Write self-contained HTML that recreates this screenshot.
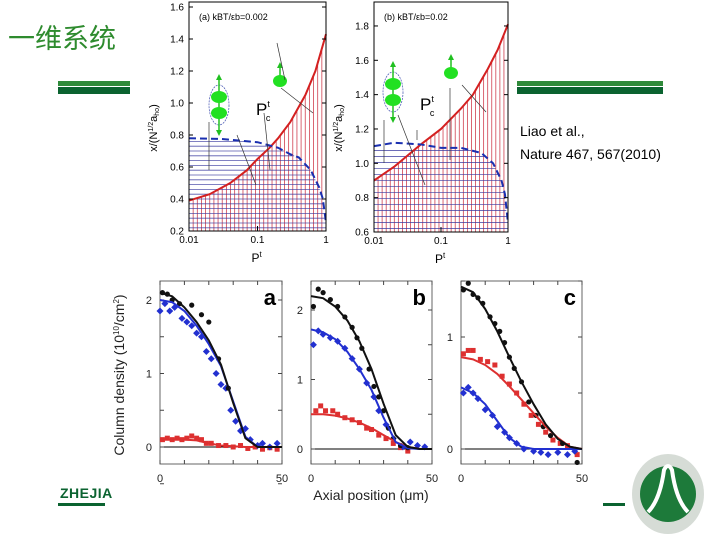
<!DOCTYPE html>
<html><head><meta charset="utf-8"><style>
body{margin:0;background:#fff;}
#root{position:relative;width:720px;height:540px;overflow:hidden;background:#fff;font-family:"Liberation Sans",sans-serif;}
svg text{font-family:"Liberation Sans","Noto Sans CJK SC",sans-serif;}
</style></head><body>
<div id="root">
<svg id="svg" width="720" height="540" viewBox="0 0 720 540">
<text x="8" y="48" font-size="27" fill="#2e8b2e" font-family="Noto Serif CJK SC, serif">一维系统</text>
<rect x="58" y="81" width="72" height="5" fill="#2f8a3a"/>
<rect x="58" y="87" width="72" height="7" fill="#0b6330"/>
<rect x="517" y="81" width="146" height="5" fill="#2f8a3a"/>
<rect x="517" y="87" width="146" height="7" fill="#0b6330"/>
<text x="520" y="136" font-size="14" fill="#000">Liao et al.,</text>
<text x="520" y="159" font-size="14" fill="#000">Nature 467, 567(2010)</text>
<text x="60" y="498" font-size="14" font-weight="bold" fill="#0b6330" letter-spacing="0.5">ZHEJIA</text>
<rect x="58" y="503" width="47" height="3" fill="#0b6330"/>
<rect x="603" y="503" width="22" height="3" fill="#0b6330"/>
<g>
<ellipse cx="668" cy="494" rx="36" ry="40" fill="#d6dcd6"/>
<circle cx="668" cy="494" r="28" fill="#1d7a3a"/>
<path d="M648 512 Q660 500 664 470 Q668 462 672 470 Q676 500 688 512" fill="none" stroke="#fff" stroke-width="4"/>
</g>
<g id="top"></g>
<g id="bot"></g>
</svg>
</div>
<script>
// ---- top chart data ----
const topLeftP = [0.01,0.02,0.04,0.07,0.1,0.15,0.2,0.3,0.5,0.7,1];
const topLeftRed = [0.39,0.43,0.50,0.58,0.65,0.72,0.78,0.88,1.05,1.2,1.43];
const topLeftBlueP = [0.01,0.03,0.1,0.2,0.3,0.4,0.6,0.8,0.9,1];
const topLeftBlue = [0.78,0.775,0.755,0.72,0.68,0.66,0.58,0.47,0.40,0.25];
const topRightP = [0.01,0.02,0.05,0.1,0.2,0.3,0.5,0.7,1];
const topRightRed = [0.9,0.98,1.11,1.2,1.32,1.4,1.55,1.66,1.81];
const topRightBlueP = [0.01,0.02,0.05,0.1,0.2,0.4,0.6,0.8,0.9,1];
const topRightBlue = [1.10,1.12,1.11,1.09,1.09,1.06,1.0,0.9,0.82,0.65];
const topLeftTicks = [0.2,0.4,0.6,0.8,1.0,1.2,1.4,1.6];
const topRightTicks = [0.6,0.8,1.0,1.2,1.4,1.6,1.8];
const topXTicks = [0.01,0.1,1];
// ---- bottom chart data ----
const botX = [0,5,10,15,20,25,30,35,40,45,50];
const aBlack = [2.1,2.05,1.9,1.7,1.45,1.12,0.6,0.12,0,0,0];
const aBlue = [2.0,1.97,1.85,1.65,1.4,1.1,0.62,0.14,0,0,0];
const aRed = [0.1,0.1,0.1,0.09,0.05,0.02,0.01,0,0,0,0];
const bBlack = [2.2,2.17,2.05,1.85,1.55,1.15,0.65,0.2,0.03,0,0];
const bBlue = [1.72,1.68,1.58,1.4,1.15,0.85,0.45,0.1,0.01,0,0];
const bRed = [0.5,0.5,0.48,0.44,0.38,0.3,0.2,0.1,0.03,0,0];
const cBlack = [1.45,1.4,1.25,1.05,0.82,0.6,0.4,0.22,0.09,0.02,0];
const cRed = [0.82,0.8,0.75,0.67,0.56,0.44,0.32,0.2,0.1,0.02,0];
const cBlue = [0.55,0.5,0.4,0.25,0.1,0.02,0,0,0,0,0];
const aBlackPts = [[1,2.1],[3,2.08],[5,2.0],[8,1.95],[13,1.93],[17,1.8],[20,1.7],[24,1.2],[28,0.8]];
const aBluePts = [[0,1.85],[2,1.95],[4,1.85],[6,1.9],[9,1.75],[11,1.7],[13,1.65],[15,1.55],[17,1.5],[19,1.3],[21,1.2],[23,1.0],[25,0.85],[27,0.8],[29,0.5],[31,0.35],[33,0.22],[35,0.25],[37,0.1],[40,0.02],[42,0.05],[45,0.0],[48,0.05]];
const aRedPts = [[1,0.1],[3,0.12],[5,0.1],[7,0.12],[9,0.1],[11,0.12],[13,0.15],[15,0.12],[17,0.1],[19,0.05],[21,0.05],[24,0.02],[27,0.02],[30,0.0],[33,0.02],[36,-0.02],[39,0.0],[42,-0.03],[45,-0.01],[48,-0.03]];
const bBlackPts = [[1,2.05],[3,2.3],[5,2.25],[8,2.15],[11,2.05],[14,1.9],[17,1.75],[19,1.6],[21,1.45],[24,1.15],[26,0.9],[28,0.75],[30,0.55],[32,0.3],[34,0.15],[37,0.05],[40,0.02]];
const bBluePts = [[1,1.5],[3,1.7],[5,1.65],[8,1.6],[11,1.55],[14,1.45],[17,1.3],[20,1.15],[23,0.95],[26,0.75],[28,0.55],[31,0.35],[34,0.15],[38,0.03],[41,0.1],[44,0.05],[47,0.03]];
const bRedPts = [[2,0.55],[4,0.62],[6,0.55],[9,0.55],[11,0.5],[14,0.45],[17,0.42],[20,0.38],[23,0.3],[25,0.28],[28,0.2],[31,0.15],[34,0.08],[37,0.02],[40,-0.03]];
const cBlackPts = [[1,1.42],[3,1.48],[5,1.38],[7,1.35],[9,1.3],[12,1.18],[14,1.12],[16,1.05],[18,0.95],[20,0.82],[22,0.72],[25,0.6],[28,0.42],[31,0.3],[34,0.2],[37,0.12],[42,0.05],[48,-0.12]];
const cRedPts = [[1,0.85],[3,0.88],[5,0.88],[8,0.8],[11,0.78],[14,0.75],[17,0.65],[20,0.58],[23,0.5],[26,0.4],[29,0.3],[32,0.22],[35,0.15],[38,0.08],[41,0.05],[44,0.03],[48,-0.05]];
const cBluePts = [[1,0.5],[3,0.55],[5,0.5],[7,0.45],[10,0.35],[13,0.3],[15,0.2],[18,0.15],[20,0.1],[23,0.05],[26,0.0],[30,-0.02],[33,-0.03],[36,-0.05],[40,-0.03],[44,-0.05],[47,-0.02]];

const NS='http://www.w3.org/2000/svg';
function mk(parent,tag,attrs,txt){const e=document.createElementNS(NS,tag);for(const k in attrs)e.setAttribute(k,attrs[k]);if(txt!==undefined)e.textContent=txt;parent.appendChild(e);return e;}
function interp(xs,ys,x){for(let i=0;i<xs.length-1;i++){if(x>=xs[i]&&x<=xs[i+1]){const t=(x-xs[i])/(xs[i+1]-xs[i]);return ys[i]+t*(ys[i+1]-ys[i]);}}return ys[ys.length-1];}

// ---- top charts ----
function topChart(o){
  const g=mk(document.getElementById('top'),'g',{});
  
  
  const sx=p=>o.x0+(Math.log10(p)+2)/2*(o.x1-o.x0);
  const sy=v=>o.yb-(v-o.vmin)*o.k;
  const lx=o.P.map(Math.log10), lbx=o.BP.map(Math.log10);
  for(let i=0;i<34;i++){const lp=-2+i*2/33;const v=interp(lx,o.R,lp);const X=o.x0+(lp+2)/2*(o.x1-o.x0);
    const l=mk(g,'line',{x1:X,x2:X,y1:o.yb,y2:sy(v),stroke:'#d04050','stroke-width':0.8});
    
    }
  for(let v=o.vmin+0.02;v<o.B[0];v+=o.hs){let endP=0;for(let lp=-2;lp<=0;lp+=0.005){if(interp(lbx,o.B,lp)>=v)endP=lp;}
    const l=mk(g,'line',{x1:o.x0,x2:o.x0+(endP+2)/2*(o.x1-o.x0),y1:sy(v),y2:sy(v),stroke:'#3a3aa0','stroke-width':0.8,opacity:0.85});
    
    }
  const rp=mk(g,'polyline',{points:o.P.map((p,i)=>sx(p)+','+sy(o.R[i])).join(' '),fill:'none',stroke:'#d42020','stroke-width':2});
  
  
  const bp=mk(g,'polyline',{points:o.BP.map((p,i)=>sx(p)+','+sy(o.B[i])).join(' '),fill:'none',stroke:'#1a2fb0','stroke-width':2,'stroke-dasharray':'7,4'});
  
  
  const fr=mk(g,'rect',{x:o.x0,y:o.yt,width:o.x1-o.x0,height:o.yb-o.yt,fill:'none',stroke:'#000','stroke-width':1});
  
  
  o.ticks.forEach(t=>{const Y=sy(t);mk(g,'line',{x1:o.x0,x2:o.x0+4,y1:Y,y2:Y,stroke:'#000'});mk(g,'line',{x1:o.x1,x2:o.x1-4,y1:Y,y2:Y,stroke:'#000'});
    const tx=mk(g,'text',{x:o.x0-5,y:Y+3.5,'font-size':10,'text-anchor':'end'},t.toFixed(1));
    
    });
  topXTicks.forEach(t=>{const X=sx(t);mk(g,'line',{x1:X,x2:X,y1:o.yb,y2:o.yb-5,stroke:'#000'});
    const tx=mk(g,'text',{x:X,y:o.yb+12,'font-size':10,'text-anchor':'middle'},String(t));
    
    });
  const xt=mk(g,'text',{x:(o.x0+o.x1)/2-6,y:o.yb+31,'font-size':12},'P');
  
  
  mk(xt,'tspan',{dy:-5,'font-size':8},'t');
  const yt=mk(g,'text',{transform:`translate(${o.x0-32},${o.ycap}) rotate(-90)`,'font-size':11,'text-anchor':'middle'},'x/(N');
  
  
  mk(yt,'tspan',{dy:-4,'font-size':7},'1/2');mk(yt,'tspan',{dy:4},'a');mk(yt,'tspan',{dy:2,'font-size':7},'ho');mk(yt,'tspan',{dy:-2},')');
  const pl=mk(g,'text',{x:o.x0+10,y:o.yt+18,'font-size':9},o.label);
  
  
  const pc=mk(g,'text',{x:o.pcx,y:o.pcy,'font-size':17},'P');
  
  
  mk(pc,'tspan',{dy:-8,'font-size':9},'t');mk(pc,'tspan',{dx:-4,dy:14,'font-size':9},'c');
  const ag=mk(g,'g',{});
  
  
  mk(ag,'ellipse',{cx:o.ax,cy:o.ay+8,rx:10,ry:20,fill:'none',stroke:'#4050b0','stroke-width':0.7,'stroke-dasharray':'2,1'});
  mk(ag,'line',{x1:o.ax,x2:o.ax,y1:o.ay-20,y2:o.ay+36,stroke:'#20c020','stroke-width':1.5});
  mk(ag,'ellipse',{cx:o.ax,cy:o.ay,rx:8,ry:6,fill:'#22e022'});
  mk(ag,'ellipse',{cx:o.ax,cy:o.ay+16,rx:8,ry:6,fill:'#22e022'});
  mk(ag,'polygon',{points:`${o.ax-3},${o.ay-17} ${o.ax+3},${o.ay-17} ${o.ax},${o.ay-23}`,fill:'#20c020'});
  mk(ag,'polygon',{points:`${o.ax-3},${o.ay+33} ${o.ax+3},${o.ay+33} ${o.ax},${o.ay+39}`,fill:'#20c020'});
  mk(ag,'line',{x1:o.sx,x2:o.sx,y1:o.sy-16,y2:o.sy,stroke:'#20c020','stroke-width':1.5});
  mk(ag,'polygon',{points:`${o.sx-3},${o.sy-13} ${o.sx+3},${o.sy-13} ${o.sx},${o.sy-19}`,fill:'#20c020'});
  mk(ag,'ellipse',{cx:o.sx,cy:o.sy,rx:7,ry:6,fill:'#22e022'});
  o.arrows.forEach(a=>{const l=mk(g,'line',{x1:a[0],y1:a[1],x2:a[2],y2:a[3],stroke:'#333','stroke-width':0.7});
    
    });
}
topChart({name:'top-left-chart',x0:189,x1:326,yt:2,yb:231,vmin:0.2,k:160,P:topLeftP,R:topLeftRed,BP:topLeftBlueP,B:topLeftBlue,ticks:topLeftTicks,hs:0.03,ycap:128,label:'(a) kBT/εb=0.002',pcx:256,pcy:115,ax:219,ay:97,sx:280,sy:81,arrows:[[209,122,209,170],[237,135,256,185],[281,88,313,113],[264,113,270,170],[277,43,285,80]]});
topChart({name:'top-right-chart',x0:374,x1:508,yt:2,yb:232,vmin:0.6,k:171.7,P:topRightP,R:topRightRed,BP:topRightBlueP,B:topRightBlue,ticks:topRightTicks,hs:0.035,ycap:128,label:'(b) kBT/εb=0.02',pcx:420,pcy:110,ax:393,ay:84,sx:451,sy:73,arrows:[[384,120,384,163],[398,115,425,185],[450,88,450,160],[462,85,486,112],[417,130,417,140]]});

// ---- bottom charts ----
function botChart(o){
  const g=mk(document.getElementById('bot'),'g',{});
  
  
  const sx=v=>o.x0+v/50*(o.x1-o.x0);
  const sy=v=>o.y0-v*o.k;
  const fr=mk(g,'rect',{x:o.x0,y:281,width:o.x1-o.x0,height:183,fill:'none',stroke:'#666','stroke-width':1});
  
  
  const zl=mk(g,'line',{x1:o.x0,x2:o.x1,y1:sy(0),y2:sy(0),stroke:'#000','stroke-width':1});
  
  
  for(let t=0;t<=50;t+=10){const X=sx(t);mk(g,'line',{x1:X,x2:X,y1:464,y2:460,stroke:'#444'});mk(g,'line',{x1:X,x2:X,y1:281,y2:285,stroke:'#444'});}
  [0,50].forEach(t=>{const tx=mk(g,'text',{x:sx(t),y:482,'font-size':11,'text-anchor':'middle',fill:'#222'},String(t));
    
    });
  o.yt.forEach(t=>{const Y=sy(t);mk(g,'line',{x1:o.x0,x2:o.x0+4,y1:Y,y2:Y,stroke:'#444'});mk(g,'line',{x1:o.x1,x2:o.x1-4,y1:Y,y2:Y,stroke:'#444'});
    if(Number.isInteger(t)){const tx=mk(g,'text',{x:o.x0-8,y:Y+4,'font-size':11,'text-anchor':'end',fill:'#222'},String(t));
    
    }});
  const col={black:'#111',blue:'#2230d0',red:'#dd3030'};
  o.pts.forEach(([c,arr])=>arr.forEach(p=>{let m;
    if(c==='black')m=mk(g,'circle',{cx:sx(p[0]),cy:sy(p[1]),r:2.6,fill:col[c]});
    else if(c==='red')m=mk(g,'rect',{x:sx(p[0])-2.5,y:sy(p[1])-2.5,width:5,height:5,fill:col[c]});
    else m=mk(g,'polygon',{points:`${sx(p[0])},${sy(p[1])-3.5} ${sx(p[0])+3.5},${sy(p[1])} ${sx(p[0])},${sy(p[1])+3.5} ${sx(p[0])-3.5},${sy(p[1])}`,fill:col[c]});
    
    }));
  o.curves.forEach(([c,arr])=>{const pl=mk(g,'polyline',{points:botX.map((x,i)=>sx(x)+','+sy(arr[i])).join(' '),fill:'none',stroke:col[c],'stroke-width':2,'stroke-linejoin':'round'});
    
    });
  const lb=mk(g,'text',{x:o.x1-6,y:305,'font-size':22,'font-weight':'bold','text-anchor':'end'},o.label);
  
  
}
botChart({name:'bottom-chart-a',x0:160,x1:282,y0:447,k:73.5,yt:[-0.5,0,0.5,1,1.5,2],label:'a',
  pts:[['red',aRedPts],['blue',aBluePts],['black',aBlackPts]],curves:[['red',aRed],['blue',aBlue],['black',aBlack]]});
botChart({name:'bottom-chart-b',x0:311,x1:432,y0:449,k:69.5,yt:[0,0.5,1,1.5,2],label:'b',
  pts:[['red',bRedPts],['blue',bBluePts],['black',bBlackPts]],curves:[['red',bRed],['blue',bBlue],['black',bBlack]]});
botChart({name:'bottom-chart-c',x0:461,x1:582,y0:449,k:112,yt:[0,0.5,1,1.5],label:'c',
  pts:[['red',cRedPts],['blue',cBluePts],['black',cBlackPts]],curves:[['red',cRed],['blue',cBlue],['black',cBlack]]});
const svg=document.getElementById('svg');
const yt=mk(svg,'text',{transform:'translate(124,375) rotate(-90)','font-size':14,'text-anchor':'middle',fill:'#222'},'Column density (10');


mk(yt,'tspan',{dy:-5,'font-size':8},'10');mk(yt,'tspan',{dy:5},'/cm');mk(yt,'tspan',{dy:-5,'font-size':8},'2');mk(yt,'tspan',{dy:5},')');
const xt=mk(svg,'text',{x:371,y:500,'font-size':14,'text-anchor':'middle',fill:'#222'},'Axial position (μm)');


</script>
</body></html>
